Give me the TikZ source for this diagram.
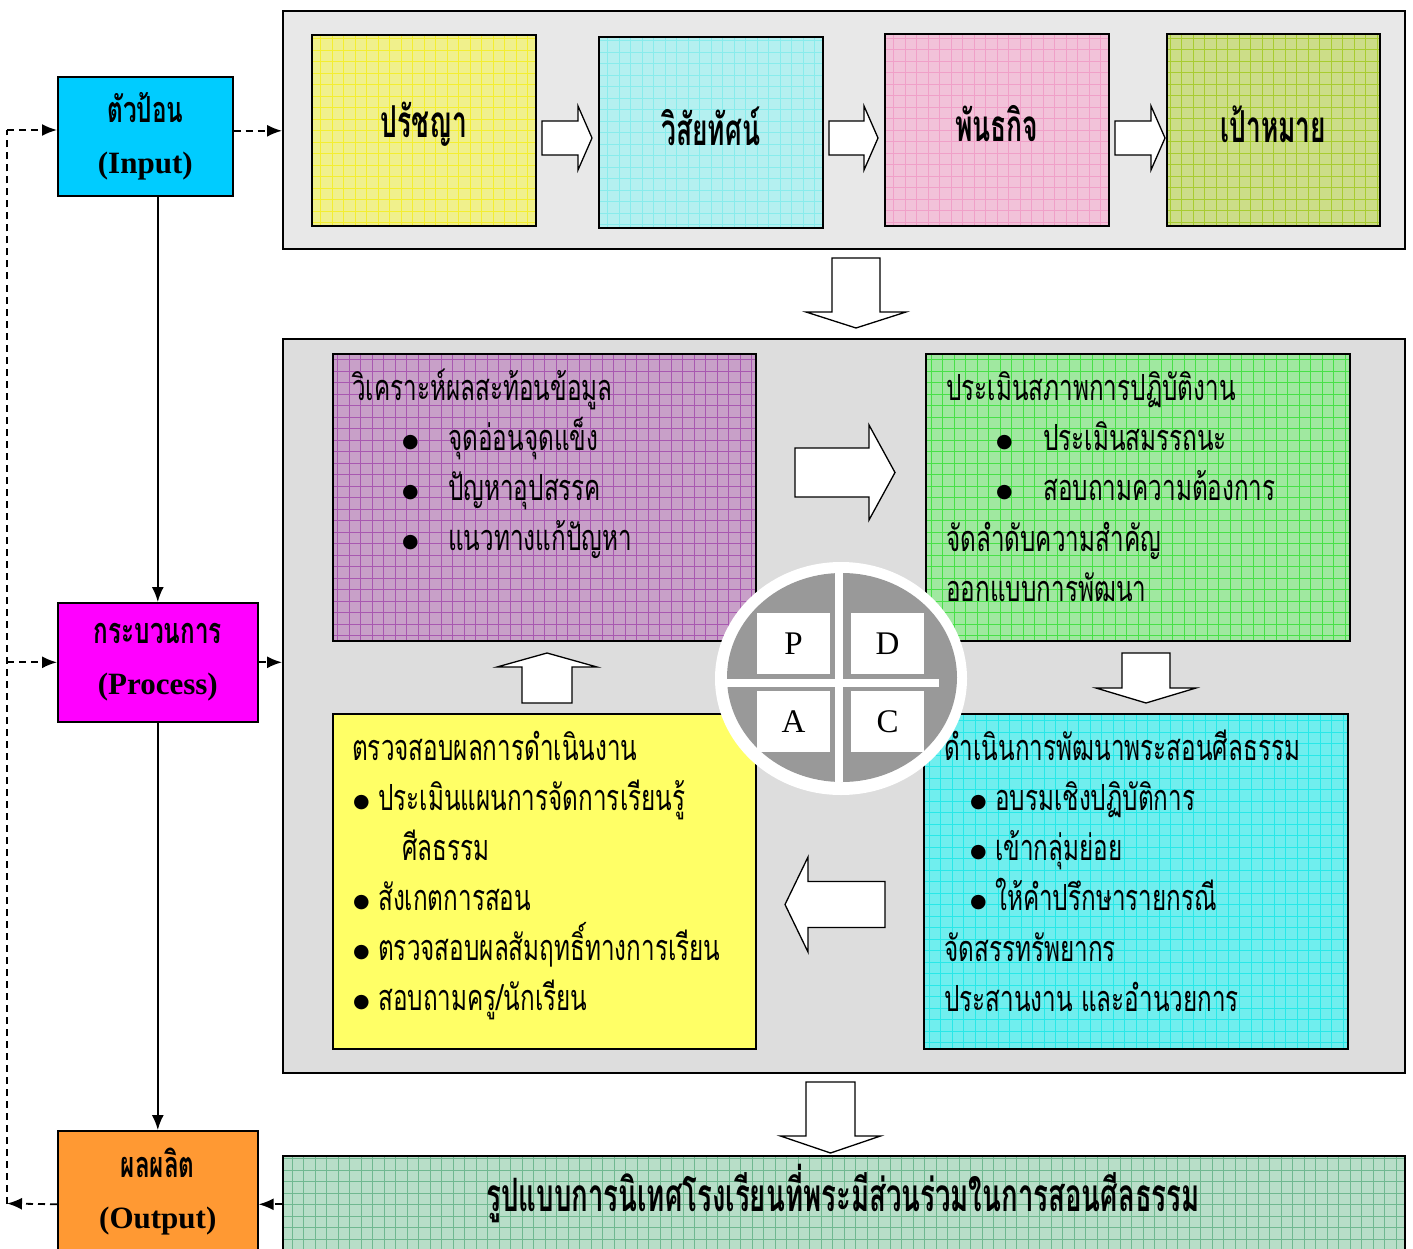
\documentclass[tikz,border=0pt]{standalone}
\usepackage{fontspec}
\setmainfont{Liberation Serif}
\newfontfamily\thai[Script=Thai,FakeStretch=0.675]{Loma}
\newfontfamily\thaihead[Script=Thai,FakeStretch=0.6]{Loma}
\newfontfamily\symfont{DejaVu Sans}
\usetikzlibrary{arrows.meta,calc}

\definecolor{topbg}{HTML}{E8E8E8}
\definecolor{midbg}{HTML}{DDDDDD}
\definecolor{philc}{HTML}{F0F08C}
\definecolor{philg}{HTML}{F4EE30}
\definecolor{visc}{HTML}{B4F0F0}
\definecolor{visg}{HTML}{88ECEC}
\definecolor{missc}{HTML}{F2C2D9}
\definecolor{missg}{HTML}{F0A0C8}
\definecolor{goalc}{HTML}{CCDD88}
\definecolor{goalg}{HTML}{A8CC30}
\definecolor{anlc}{HTML}{C8A0C8}
\definecolor{anlg}{HTML}{A858B0}
\definecolor{asmc}{HTML}{A0E8A0}
\definecolor{asmg}{HTML}{48E048}
\definecolor{chkc}{HTML}{FFFF66}
\definecolor{devc}{HTML}{70EEEE}
\definecolor{devg}{HTML}{28E8E8}
\definecolor{finc}{HTML}{B8DEC8}
\definecolor{fing}{HTML}{70B890}
\definecolor{inc}{HTML}{00CCFF}
\definecolor{proc}{HTML}{FF00FF}
\definecolor{outc}{HTML}{FF9933}
\definecolor{wheel}{HTML}{999999}

\newcommand{\bul}[1]{\makebox[#1pt][l]{\raisebox{3pt}{\symfont\fontsize{19}{19}\selectfont ●}}}
\newcommand{\barrow}[6]{%
  \draw[blockarrow, shift={#1}, rotate=#2] (0,-#4) -- (#3-#6,-#4) -- (#3-#6,-#5) -- (#3,0)
    -- (#3-#6,#5) -- (#3-#6,#4) -- (0,#4) -- cycle;}

\begin{document}
\begin{tikzpicture}[x=1pt,y=-1pt,line join=miter,>={Latex[length=15pt,width=12pt]},
  container/.style={draw, line width=1.6pt, fill=#1, inner sep=0pt, anchor=north west},
  gridbox/.style 2 args={draw, line width=1.6pt, fill=#1, inner sep=0pt, anchor=north west,
    path picture={\draw[#2, line width=0.5pt, step=11.5pt]
      (path picture bounding box.south west) grid (path picture bounding box.north east);}},
  sidebox/.style={draw, line width=1.6pt, fill=#1, inner sep=0pt, anchor=north west, align=center,
    font=\bfseries\fontsize{31}{51}\selectfont},
  head/.style={inner sep=0pt, font=\thaihead\bfseries\fontsize{44}{44}\selectfont},
  txt/.style={anchor=base west, inner sep=0pt, text height=21pt, text depth=8pt,
    font=\thai\fontsize{36}{36}\selectfont},
  blockarrow/.style={draw, line width=1.3pt, fill=white},
  pdca/.style={fill=white, minimum width=73pt, minimum height=61pt, inner sep=0pt,
    font=\fontsize{33}{33}\selectfont},
  conn/.style={line width=1.8pt, ->},
  fb/.style={line width=1.8pt, dash pattern=on 7pt off 5pt}]
  \useasboundingbox (0,0) rectangle (1413,1249);

  % input stage
  \node[container=topbg, minimum width=1122pt, minimum height=238pt] (topbox) at (282,10) {};
  \node[gridbox={philc}{philg}, minimum width=224pt, minimum height=191pt] (phil) at (311,34) {};
  \node[gridbox={visc}{visg}, minimum width=224pt, minimum height=191pt] (vis) at (598,36) {};
  \node[gridbox={missc}{missg}, minimum width=224pt, minimum height=192pt] (miss) at (884,33) {};
  \node[gridbox={goalc}{goalg}, minimum width=213pt, minimum height=192pt] (goal) at (1166,33) {};
  \node[head] (philtxt) at ($(phil.center)+(0,-6)$) {ปรัชญา};
  \node[head] (vistxt) at ($(vis.center)+(0,-6)$) {วิสัยทัศน์};
  \node[head] (misstxt) at ($(miss.center)+(0,-6)$) {พันธกิจ};
  \node[head] (goaltxt) at ($(goal.center)+(0,-6)$) {เป้าหมาย};
  \barrow{(542,138)}{0}{50}{17}{32}{14}
  \barrow{(829,138)}{0}{49}{17}{32}{14}
  \barrow{(1115,138)}{0}{50}{17}{32}{14}
  \barrow{(856,258)}{-90}{70}{24}{50}{16}

  % process stage
  \node[container=midbg, minimum width=1122pt, minimum height=734pt] (midbox) at (282,338) {};
  \node[gridbox={anlc}{anlg}, minimum width=423pt, minimum height=287pt] (anl) at (332,353) {};
  \node[gridbox={asmc}{asmg}, minimum width=424pt, minimum height=287pt] (asm) at (925,353) {};
  \node[container=chkc, minimum width=423pt, minimum height=335pt] (chk) at (332,713) {};
  \node[gridbox={devc}{devg}, minimum width=424pt, minimum height=335pt] (dev) at (923,713) {};

  \node[txt] (anl0) at (352,400) {วิเคราะห์ผลสะท้อนข้อมูล};
  \node[txt] (anl1) at (402,450) {\bul{46}จุดอ่อนจุดแข็ง};
  \node[txt] (anl2) at (402,500) {\bul{46}ปัญหาอุปสรรค};
  \node[txt] (anl3) at (402,550) {\bul{46}แนวทางแก้ปัญหา};

  \node[txt] (asm0) at (946,400) {ประเมินสภาพการปฏิบัติงาน};
  \node[txt] (asm1) at (996,450) {\bul{47}ประเมินสมรรถนะ};
  \node[txt] (asm2) at (996,500) {\bul{47}สอบถามความต้องการ};
  \node[txt] (asm3) at (946,551) {จัดลำดับความสำคัญ};
  \node[txt] (asm4) at (946,601) {ออกแบบการพัฒนา};

  \node[txt] (chk0) at (352,760) {ตรวจสอบผลการดำเนินงาน};
  \node[txt] (chk1) at (353,810) {\bul{25}ประเมินแผนการจัดการเรียนรู้};
  \node[txt] (chk2) at (402,860) {ศีลธรรม};
  \node[txt] (chk3) at (353,910) {\bul{25}สังเกตการสอน};
  \node[txt] (chk4) at (353,960) {\bul{25}ตรวจสอบผลสัมฤทธิ์ทางการเรียน};
  \node[txt] (chk5) at (353,1010) {\bul{25}สอบถามครู/นักเรียน};

  \node[txt] (dev0) at (944,760) {ดำเนินการพัฒนาพระสอนศีลธรรม};
  \node[txt] (dev1) at (970,810) {\bul{25}อบรมเชิงปฏิบัติการ};
  \node[txt] (dev2) at (970,860) {\bul{25}เข้ากลุ่มย่อย};
  \node[txt] (dev3) at (970,910) {\bul{25}ให้คำปรึกษารายกรณี};
  \node[txt] (dev4) at (944,961) {จัดสรรทรัพยากร};
  \node[txt] (dev5) at (944,1011) {ประสานงาน และอำนวยการ};

  \barrow{(795,472.5)}{0}{100}{24.5}{47.5}{26}
  \barrow{(1146,653)}{-90}{50}{24}{50}{15}
  \barrow{(885,904.5)}{180}{100}{23}{47.5}{23}
  \barrow{(547,703)}{90}{50}{25}{50}{14}

  % PDCA wheel
  \fill[white] (841,678.5) ellipse [x radius=126pt, y radius=116.5pt];
  \fill[wheel] (842,677.5) ellipse [x radius=115pt, y radius=104.5pt];
  \fill[white] (835,573) rectangle (843,782);
  \fill[white] (727,679) rectangle (939,687);
  \node[pdca] (P) at (793.5,643.5) {P};
  \node[pdca] (D) at (887.5,643.5) {D};
  \node[pdca] (A) at (793.5,721.5) {A};
  \node[pdca] (C) at (887.5,721.5) {C};

  % output stage
  \barrow{(830.5,1082)}{-90}{71}{24.5}{50}{17}
  \node[gridbox={finc}{fing}, minimum width=1122pt, minimum height=97pt] (final) at (282,1155) {};
  \node[head, font=\thaihead\bfseries\fontsize{46}{46}\selectfont] (finaltxt) at (843,1193)
    {รูปแบบการนิเทศโรงเรียนที่พระมีส่วนร่วมในการสอนศีลธรรม};

  % left column
  \node[sidebox=inc, minimum width=175pt, minimum height=119pt] (input) at (57,76)
    {{\thai\fontsize{36}{36}\selectfont ตัวป้อน}\\(Input)};
  \node[sidebox=proc, minimum width=200pt, minimum height=119pt] (process) at (57,602)
    {{\thai\fontsize{36}{36}\selectfont กระบวนการ}\\(Process)};
  \node[sidebox=outc, minimum width=200pt, minimum height=122pt] (output) at (57,1130)
    {{\thai\fontsize{36}{36}\selectfont ผลผลิต}\\(Output)};

  \draw[conn] (input.south -| process.north) -- (process.north);
  \draw[conn] (process) -- (output);
  \draw[fb,->] ([yshift=5.5pt]input.east) -- ([yshift=5.5pt]input.east -| topbox.west);
  \draw[fb,->] (process.east) -- (process.east -| midbox.west);
  \draw[fb,->] (final.west) -- (final.west -| output.east);

  \coordinate (fbb) at (7,1203.5);
  \coordinate (fbt) at (7,130);
  \draw[fb,->] (output.west |- final.west) -- (fbb);
  \draw[fb] (fbb) -- (fbt);
  \draw[fb,->] (fbt) -- (fbt -| input.west);
  \draw[fb,->] (fbt |- process.west) -- (process.west);
\end{tikzpicture}
\end{document}
